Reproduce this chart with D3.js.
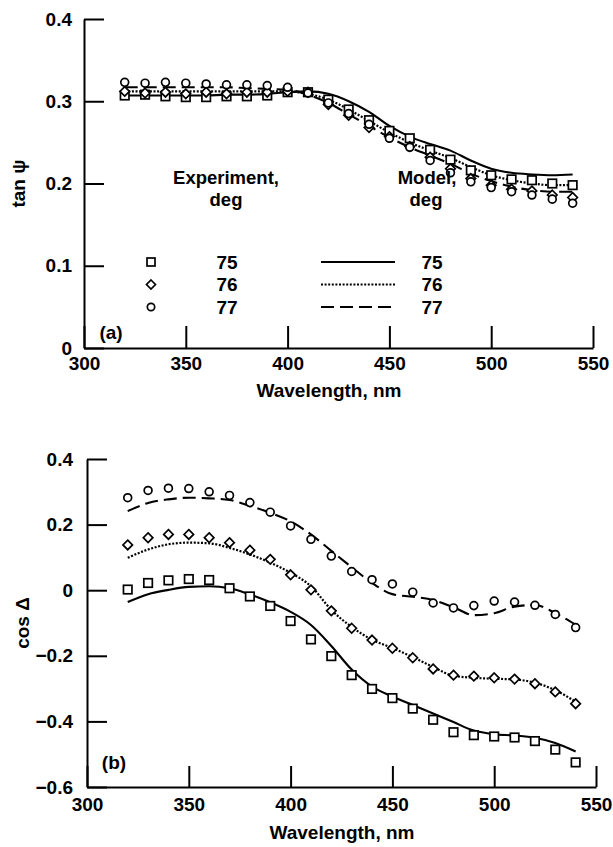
<!DOCTYPE html>
<html><head><meta charset="utf-8">
<script src="https://cdn.jsdelivr.net/npm/d3@7"></script>
<style>
body{margin:0;background:#fff;}
svg text{font-family:"Liberation Sans",Arial,Helvetica,sans-serif;font-weight:bold;fill:#000;}
</style></head>
<body><svg id="c" width="613" height="847"></svg>
<script>
const wavelengths = [320,330,340,350,360,370,380,390,400,410,420,430,440,450,460,470,480,490,500,510,520,530,540];
const xTicks = [300,350,400,450,500,550];
const xTickLabels = ["300","350","400","450","500","550"];

// panel (a): tan psi
const tanExp75 = [0.307,0.308,0.306,0.305,0.305,0.306,0.306,0.307,0.311,0.311,0.302,0.290,0.277,0.264,0.255,0.241,0.229,0.216,0.210,0.205,0.204,0.200,0.198];
const tanExp76 = [0.312,0.310,0.311,0.309,0.311,0.309,0.311,0.311,0.312,0.311,0.296,0.283,0.268,0.257,0.245,0.232,0.218,0.206,0.198,0.193,0.191,0.186,0.183];
const tanExp77 = [0.323,0.322,0.323,0.322,0.321,0.320,0.320,0.319,0.317,0.310,0.298,0.285,0.272,0.255,0.244,0.228,0.213,0.202,0.195,0.190,0.186,0.181,0.176];
const tanMod75 = [0.307,0.307,0.307,0.307,0.307,0.308,0.308,0.309,0.311,0.312,0.309,0.300,0.287,0.270,0.257,0.248,0.240,0.228,0.218,0.213,0.211,0.210,0.211];
const tanMod76 = [0.312,0.312,0.312,0.312,0.312,0.312,0.312,0.312,0.312,0.309,0.302,0.290,0.276,0.262,0.250,0.240,0.231,0.220,0.210,0.204,0.200,0.198,0.198];
const tanMod77 = [0.317,0.317,0.317,0.317,0.317,0.317,0.316,0.315,0.314,0.308,0.298,0.284,0.270,0.256,0.244,0.234,0.224,0.212,0.203,0.196,0.192,0.190,0.190];
const tanTicks = [0,0.1,0.2,0.3,0.4];
const tanTickLabels = ["0","0.1","0.2","0.3","0.4"];

// panel (b): cos Delta
const cosExp75 = [0.002,0.022,0.030,0.034,0.031,0.006,-0.019,-0.048,-0.094,-0.150,-0.201,-0.259,-0.301,-0.329,-0.361,-0.395,-0.433,-0.442,-0.446,-0.449,-0.460,-0.486,-0.525];
const cosExp76 = [0.138,0.160,0.170,0.170,0.160,0.145,0.122,0.094,0.047,0.001,-0.063,-0.116,-0.152,-0.177,-0.206,-0.240,-0.259,-0.262,-0.267,-0.271,-0.285,-0.310,-0.346];
const cosExp77 = [0.282,0.304,0.311,0.310,0.300,0.289,0.267,0.238,0.196,0.155,0.104,0.057,0.032,0.019,-0.006,-0.039,-0.054,-0.047,-0.033,-0.036,-0.046,-0.074,-0.114];
const cosMod75 = [-0.036,-0.012,0.001,0.010,0.012,0.006,-0.013,-0.037,-0.066,-0.106,-0.170,-0.242,-0.294,-0.324,-0.350,-0.376,-0.402,-0.428,-0.439,-0.443,-0.450,-0.466,-0.492];
const cosMod76 = [0.099,0.124,0.140,0.145,0.143,0.129,0.109,0.084,0.053,0.012,-0.060,-0.112,-0.151,-0.176,-0.204,-0.234,-0.261,-0.267,-0.270,-0.272,-0.282,-0.305,-0.340];
const cosMod77 = [0.241,0.266,0.277,0.282,0.280,0.275,0.257,0.236,0.210,0.170,0.120,0.070,0.022,-0.012,-0.020,-0.030,-0.052,-0.076,-0.070,-0.050,-0.045,-0.070,-0.105];
const cosTicks = [-0.6,-0.4,-0.2,0,0.2,0.4];
const cosTickLabels = ["\u22120.6","\u22120.4","\u22120.2","0","0.2","0.4"];

const legendAngles = ["75","76","77"];
const markerKinds = ["square","diamond","circle"];
const lineDashes = [null,"2,1.6","13,6"];

const svg = d3.select("#c");
const FS = 19;

function marker(g, kind, cx, cy, s){
  if(kind==="square"){
    g.append("rect").attr("x",cx-s/2).attr("y",cy-s/2).attr("width",s).attr("height",s)
     .attr("fill","#fff").attr("stroke","#000").attr("stroke-width",1.7);
  } else if(kind==="diamond"){
    const h=s*0.56;
    g.append("path").attr("d",`M${cx},${cy-h}L${cx+h},${cy}L${cx},${cy+h}L${cx-h},${cy}Z`)
     .attr("fill","#fff").attr("stroke","#000").attr("stroke-width",1.7);
  } else {
    g.append("circle").attr("cx",cx).attr("cy",cy).attr("r",s*0.46)
     .attr("fill","#fff").attr("stroke","#000").attr("stroke-width",1.7);
  }
}

function panel(cfg){
  const x = d3.scaleLinear().domain([300,550]).range(cfg.xr);
  const y = d3.scaleLinear().domain(cfg.yd).range(cfg.yr);
  const g = svg.append("g");

  const yAxis = d3.axisLeft(y).tickValues(cfg.yTicks)
      .tickFormat((d,i)=>cfg.yLabels[i]).tickSize(-cfg.yTickLen).tickSizeOuter(0).tickPadding(cfg.yPad);
  const ya = g.append("g").attr("transform",`translate(${cfg.xr[0]},0)`).call(yAxis);
  const xAxis = d3.axisBottom(x).tickValues(xTicks)
      .tickFormat((d,i)=>xTickLabels[i]).tickSize(-cfg.xTickLen).tickSizeOuter(0).tickPadding(cfg.xPad);
  const xa = g.append("g").attr("transform",`translate(0,${cfg.yr[0]})`).call(xAxis);
  [ya,xa].forEach(a=>{
    a.select(".domain").attr("stroke","#000").attr("stroke-width",2);
    a.selectAll(".tick line").attr("stroke","#000").attr("stroke-width",2);
    a.selectAll(".tick text").attr("font-size",FS).attr("fill","#000").attr("font-family",null);
  });

  const line = d3.line().x((d,i)=>x(wavelengths[i])).y(d=>y(d)).curve(d3.curveMonotoneX);
  cfg.models.forEach((m,k)=>{
    g.append("path").attr("d",line(m)).attr("fill","none").attr("stroke","#000")
     .attr("stroke-width",k===1?2.2:2.1).attr("stroke-dasharray",lineDashes[k]);
  });
  cfg.exps.forEach((e,k)=>{
    const mg = g.append("g");
    e.forEach((v,i)=>marker(mg, markerKinds[k], x(wavelengths[i]), y(v), cfg.ms));
  });

  g.append("text").attr("x",cfg.tag[0]).attr("y",cfg.tag[1]).attr("text-anchor","middle")
   .attr("font-size",FS).text(cfg.tagText);
  g.append("text").attr("x",cfg.xTitleX).attr("y",cfg.xTitleY).attr("text-anchor","middle")
   .attr("font-size",FS).text("Wavelength, nm");
  g.append("text").attr("transform",`translate(${cfg.yTitleX},${(cfg.yr[0]+cfg.yr[1])/2}) rotate(-90)`)
   .attr("text-anchor","middle").attr("dominant-baseline","central").attr("font-size",FS).text(cfg.yTitle);
}

panel({xr:[84,593], yd:[0,0.4], yr:[348,19], yTicks:tanTicks, yLabels:tanTickLabels,
  yTickLen:20, xTickLen:22, xPad:9, yPad:12, ms:8.5,
  models:[tanMod75,tanMod76,tanMod77], exps:[tanExp75,tanExp76,tanExp77],
  tag:[111,339], tagText:"(a)", xTitleX:329, xTitleY:397, yTitleX:18, yTitle:"tan \u03c8"});

panel({xr:[87,596], yd:[-0.6,0.4], yr:[787,459], yTicks:cosTicks, yLabels:cosTickLabels,
  yTickLen:20, xTickLen:21, xPad:11, yPad:14, ms:8.5,
  models:[cosMod75,cosMod76,cosMod77], exps:[cosExp75,cosExp76,cosExp77],
  tag:[114,769], tagText:"(b)", xTitleX:342, xTitleY:839, yTitleX:22, yTitle:"cos \u0394"});

// legend
const lg = svg.append("g");
const LFS = 18.5;
lg.append("text").attr("x",226).attr("y",184).attr("text-anchor","middle").attr("font-size",LFS).text("Experiment,");
lg.append("text").attr("x",226).attr("y",206).attr("text-anchor","middle").attr("font-size",LFS).text("deg");
lg.append("text").attr("x",427).attr("y",184).attr("text-anchor","middle").attr("font-size",LFS).text("Model,");
lg.append("text").attr("x",426).attr("y",206).attr("text-anchor","middle").attr("font-size",LFS).text("deg");
const rowY = d3.scalePoint().domain(legendAngles).range([262,307]);
legendAngles.forEach((a,k)=>{
  const yy = rowY(a);
  marker(lg, markerKinds[k], 151, yy, 8);
  lg.append("text").attr("x",227).attr("y",yy).attr("dy","0.36em").attr("text-anchor","middle").attr("font-size",FS).text(a);
  lg.append("line").attr("x1",321).attr("x2",395).attr("y1",yy).attr("y2",yy)
    .attr("stroke","#000").attr("stroke-width",2.2).attr("stroke-dasharray",lineDashes[k]);
  lg.append("text").attr("x",432).attr("y",yy).attr("dy","0.36em").attr("text-anchor","middle").attr("font-size",FS).text(a);
});
</script></body></html>
